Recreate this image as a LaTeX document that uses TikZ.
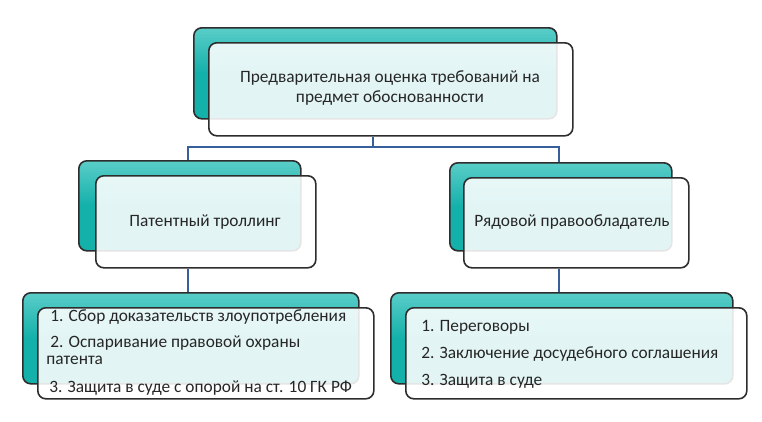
\documentclass[tikz,border=0pt]{standalone}
\usepackage{fontspec}
\setmainfont{Carlito}
\definecolor{tealbox}{RGB}{20,176,170}
\definecolor{tealtop}{RGB}{90,205,200}
\definecolor{linkblue}{RGB}{55,95,155}
\definecolor{rimgray}{RGB}{45,45,45}
\tikzset{
  back/.style={draw=rimgray, line width=1.2pt, rounded corners=6pt, top color=tealtop, bottom color=tealbox, middle color=tealbox, anchor=north west, inner sep=0pt},
  front/.style={draw=rimgray, line width=1.2pt, rounded corners=6pt, fill=white, fill opacity=0.88, text opacity=1, anchor=north west, inner sep=0pt},
  link/.style={draw=linkblue, line width=2.2pt},
  txt/.style={font=\fontsize{13}{15.5}\selectfont, text=black!85, align=center},
  item/.style={font=\fontsize{13}{15.5}\selectfont, text=black!85, anchor=west, inner sep=0pt}
}
\begin{document}
\begin{tikzpicture}[x=0.75pt, y=-0.75pt]
  \useasboundingbox (0,0) rectangle (762,421);

  % top level
  \node[back, minimum width=363*0.75pt, minimum height=91*0.75pt] (top_back) at (193,27) {};
  \node[front, minimum width=364*0.75pt, minimum height=93*0.75pt] (top) at (208,42) {};
  \node[txt] (top_text) at (390,88) {Предварительная оценка требований на\\предмет обоснованности};

  % middle level
  \node[back, minimum width=222*0.75pt, minimum height=90*0.75pt] (troll_back) at (78,160) {};
  \node[front, minimum width=220*0.75pt, minimum height=92*0.75pt] (troll) at (95,175) {};
  \node[txt] (troll_text) at (205,222) {Патентный троллинг};

  \node[back, minimum width=222*0.75pt, minimum height=88*0.75pt] (owner_back) at (449,162) {};
  \node[front, minimum width=225*0.75pt, minimum height=90*0.75pt] (owner) at (463,177) {};
  \node[txt] (owner_text) at (572,222) {Рядовой правообладатель};

  % bottom level
  \node[back, minimum width=336*0.75pt, minimum height=91*0.75pt] (troll_list_back) at (22,292) {};
  \node[front, minimum width=336*0.75pt, minimum height=91*0.75pt] (troll_list) at (37,307) {};
  \node[item] (t1) at (50,317) {1. Сбор доказательств злоупотребления};
  \node[item] (t2) at (50,343) {2. Оспаривание правовой охраны};
  \node[item] (t2b) at (46,360) {патента};
  \node[item] (t3) at (49,388) {3. Защита в суде с опорой на ст. 10 ГК РФ};

  \node[back, minimum width=342*0.75pt, minimum height=91*0.75pt] (owner_list_back) at (390,292) {};
  \node[front, minimum width=341*0.75pt, minimum height=91*0.75pt] (owner_list) at (405,307) {};
  \node[item] (o1) at (421,327) {1. Переговоры};
  \node[item] (o2) at (421,354) {2. Заключение досудебного соглашения};
  \node[item] (o3) at (421,381) {3. Защита в суде};

  % connectors
  \coordinate (drop) at ([xshift=165*0.75pt]top.south west);
  \coordinate (fork) at (drop |- 0,147);
  \draw[link] (drop) -- (fork);
  \draw[link] (fork) -| ([xshift=110*0.75pt]troll_back.north west);
  \draw[link] (fork) -| ([xshift=110*0.75pt]owner_back.north west);
  \draw[link] ([xshift=93*0.75pt]troll.south west) -- ([xshift=93*0.75pt]troll.south west |- troll_list_back.north);
  \draw[link] ([xshift=96*0.75pt]owner.south west) -- ([xshift=96*0.75pt]owner.south west |- owner_list_back.north);
\end{tikzpicture}
\end{document}
